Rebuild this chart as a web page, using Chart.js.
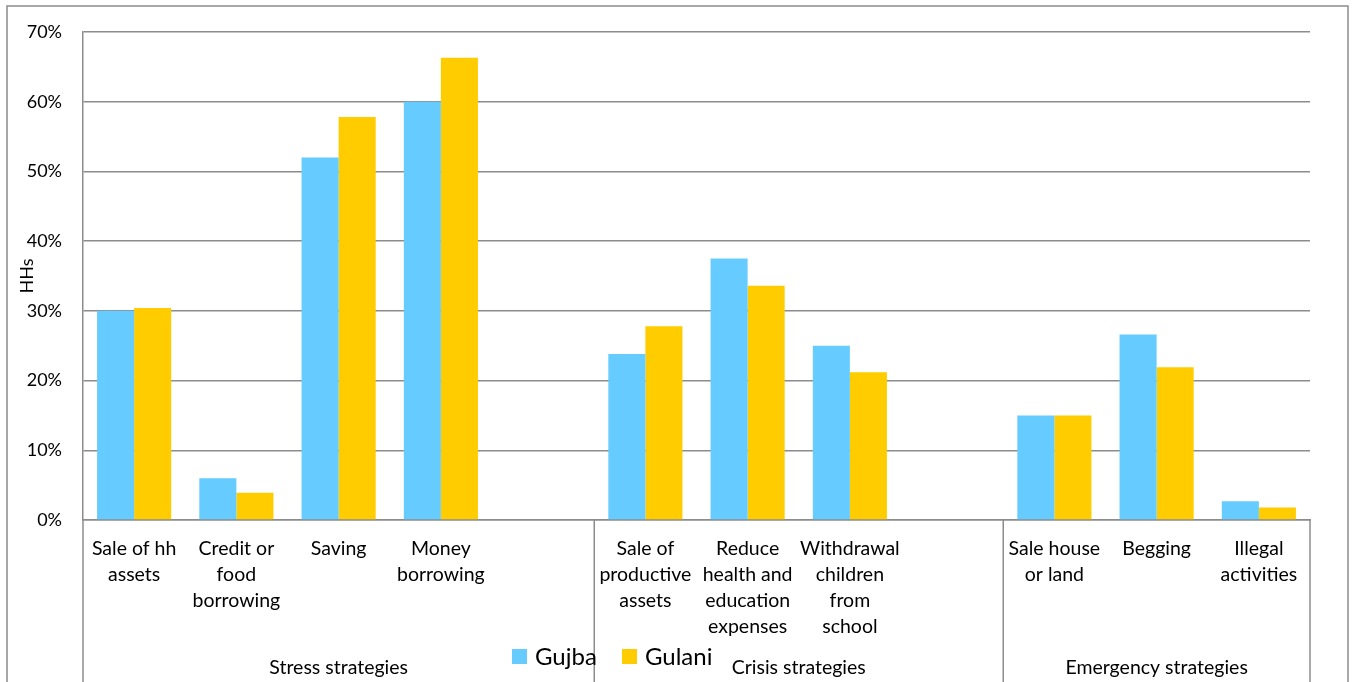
<!DOCTYPE html>
<html>
<head>
<meta charset="utf-8">
<script src="https://cdn.jsdelivr.net/npm/chart.js@4"></script>
<style>
  body { margin: 0; background: #fff; }
</style>
</head>
<body>
<canvas id="myChart" width="1352" height="682"></canvas>
<script>
const categories = [
  ['Sale of hh', 'assets'],
  ['Credit or', 'food', 'borrowing'],
  ['Saving'],
  ['Money', 'borrowing'],
  '',
  ['Sale of', 'productive', 'assets'],
  ['Reduce', 'health and', 'education', 'expenses'],
  ['Withdrawal', 'children', 'from', 'school'],
  '',
  ['Sale house', 'or land'],
  ['Begging'],
  ['Illegal', 'activities']
];
const gujba  = [30, 6, 52, 60, null, 23.8, 37.5, 25, null, 15, 26.6, 2.7];
const gulani = [30.4, 3.9, 57.8, 66.3, null, 27.8, 33.6, 21.2, null, 15, 21.9, 1.8];
const groupNames = ['Stress strategies', 'Crisis strategies', 'Emergency strategies'];
const groupSizes = [5, 4, 3];
const yTicks = [0, 10, 20, 30, 40, 50, 60, 70];

const FONT = 'Lato, Carlito, Calibri, sans-serif';
const LINE = '#8c8c8c';

// group labels, separators, legend and frame
const extras = {
  id: 'extras',
  afterDraw(chart) {
    const c = chart.ctx;
    const x = chart.scales.x;
    const area = chart.chartArea;
    const step = x.getPixelForValue(1) - x.getPixelForValue(0);
    c.save();
    c.strokeStyle = LINE;
    c.lineWidth = 1.5;
    c.strokeRect(7, 6, 1341, 720);

    let idx = 0;
    const bounds = [x.getPixelForValue(0) - step / 2];
    groupSizes.forEach(n => {
      idx += n;
      bounds.push(x.getPixelForValue(idx - 1) + step / 2);
    });
    bounds.forEach(px => {
      c.beginPath();
      c.moveTo(px, area.bottom);
      c.lineTo(px, chart.height);
      c.stroke();
    });

    c.fillStyle = '#000';
    c.font = '19.5px ' + FONT;
    c.textAlign = 'center';
    c.textBaseline = 'middle';
    groupNames.forEach((g, i) => {
      c.fillText(g, (bounds[i] + bounds[i + 1]) / 2, 668);
    });

    // legend
    c.font = '24px ' + FONT;
    c.textAlign = 'left';
    let lx = 512;
    chart.data.datasets.forEach(ds => {
      c.fillStyle = ds.backgroundColor;
      c.fillRect(lx, 649, 15, 15);
      c.fillStyle = '#000';
      c.fillText(ds.label, lx + 23, 657);
      lx += 110;
    });
    c.restore();
  }
};

new Chart(document.getElementById('myChart'), {
  type: 'bar',
  data: {
    labels: categories,
    datasets: [
      { label: 'Gujba', data: gujba, backgroundColor: '#66CCFF' },
      { label: 'Gulani', data: gulani, backgroundColor: '#FFCC00' }
    ]
  },
  options: {
    responsive: false,
    animation: false,
    categoryPercentage: 0.725,
    barPercentage: 1,
    layout: { padding: { top: 32, right: 42, left: 0, bottom: 0 } },
    plugins: { legend: { display: false }, tooltip: { enabled: false } },
    scales: {
      x: {
        grid: { display: false },
        border: { color: LINE, width: 1.5 },
        ticks: {
          color: '#000', font: { family: FONT, size: 19.5, lineHeight: 1.33 },
          maxRotation: 0, autoSkip: false, padding: 8
        },
        afterFit: s => { s.height = 162; }
      },
      y: {
        min: 0, max: 70,
        afterBuildTicks: s => { s.ticks = yTicks.map(v => ({ value: v })); },
        ticks: {
          color: '#000', font: { family: FONT, size: 18 }, padding: 21,
          callback: v => v + '%'
        },
        grid: { color: LINE, lineWidth: 1.5, drawTicks: false },
        border: { color: LINE, width: 1.5 },
        title: {
          display: true, text: 'HHs', color: '#000',
          font: { family: FONT, size: 18 }, padding: { top: 16 }
        },
        afterFit: s => { s.width = 83; }
      }
    }
  },
  plugins: [extras]
});
</script>
</body>
</html>
